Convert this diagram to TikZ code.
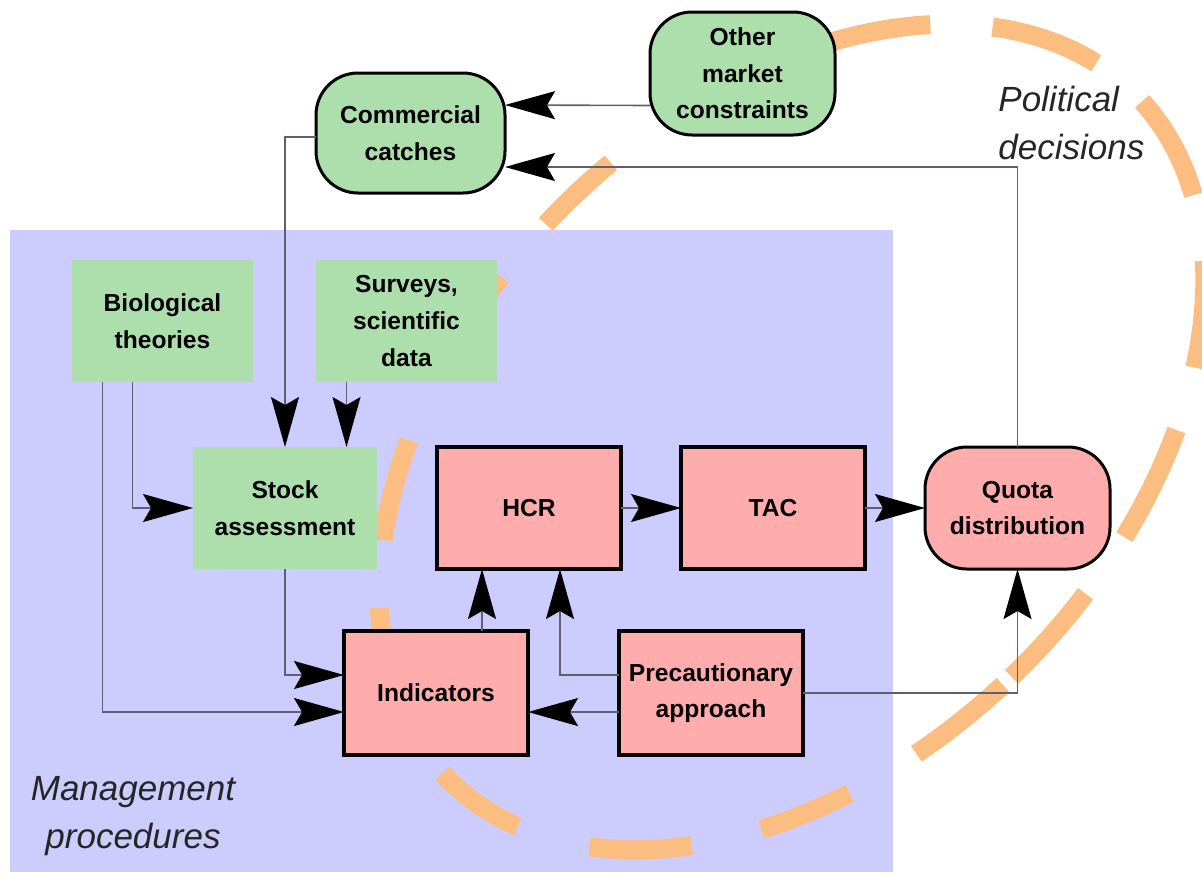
\documentclass[tikz,border=0pt]{standalone}
\usepackage{fontspec}
\setmainfont{Liberation Sans}
\usetikzlibrary{positioning, arrows.meta, calc}

\definecolor{mgmtblue}{RGB}{204,204,255}
\definecolor{boxgreen}{RGB}{172,223,172}
\definecolor{boxpink}{RGB}{255,172,172}
\definecolor{polorange}{RGB}{251,190,128}
\definecolor{wiregray}{RGB}{95,95,110}

\newcommand\diagfont{\fontsize{12.3}{18.3}\selectfont\bfseries}
\newcommand\areafont{\fontsize{17.5}{24}\selectfont\itshape}

\tikzset{
    gbox/.style={fill=boxgreen, minimum width=92pt, minimum height=61pt,
                 inner sep=0pt, outer sep=0pt, align=center, font=\diagfont},
    pbox/.style={gbox, fill=boxpink, draw=black, line width=1.8pt},
    grbox/.style={gbox, draw=black, line width=1.5pt, rounded corners=21pt},
    prbox/.style={pbox, line width=1.5pt, rounded corners=21pt},
    wire/.style={draw=wiregray, line width=0.8pt,
                 -{Stealth[length=25pt, width=14pt, inset=4pt, color=black]}},
    area/.style={inner sep=0pt, font=\areafont, text=black!85},
    polband/.style={polorange, line width=9.5pt}
}

\begin{document}
\begin{tikzpicture}[x=0.5pt, y=-0.5pt, node distance = 30pt]
        \useasboundingbox (0,0) rectangle (1202,874);
        % zones
        \fill[mgmtblue] (10,230) rectangle (893,872);
        \coordinate (cen) at (792,437);
        \foreach \a/\b in {8.7/27.1, 36.6/52, 60/72, 82.2/92.8, 101/114.4, 124.3/138.3,
                           148.3/166.8, 178.3/194.5, 206.8/222.1, 231.9/244.2, 253.7/266.9,
                           268.3/281.5, 289.8/304.8, 313.5/329.1, 339.7/358.2}
            \draw[polband, rotate around={45:(cen)}] ($(cen)+(\a:242.5pt and 162.5pt)$)
                arc[start angle=\a, end angle=\b, x radius=242.5pt, y radius=162.5pt];
        \node (mgmt) [area, anchor=north, align=center] at (133,776) {Management\\procedures};
        \node (pol) [area, anchor=north west, align=left] at (998,86) {Political\\decisions};

        % market side
        \node (other) [grbox, minimum width=92.5pt, minimum height=61.5pt] at (742.5,73.5) {Other\\market\\constraints};
        \node (catch) [grbox, minimum width=94.5pt, minimum height=60pt] at (410.5,133) {Commercial\\catches};

        % inputs
        \node (bio)  [gbox, minimum width=90.5pt] at (162.5,321) {Biological\\theories};
        \node (surv) [gbox, minimum width=90.5pt] at (406.5,321) {Surveys,\\scientific\\data};

        % main row
        \node (stock) [gbox] at (285,508) {Stock\\assessment};
        \node (hcr)   [pbox, right=of stock] {HCR};
        \node (tac)   [pbox, right=of hcr] {TAC};
        \node (quota) [prbox, minimum width=92.5pt, right=of tac] {Quota\\distribution};

        % bottom row
        \node (ind)  [pbox, minimum height=62pt] at (436,693) {Indicators};
        \node (prec) [pbox, minimum height=62pt] at (711,693) {Precautionary\\approach};

        % connectors
        \draw[wire] ([yshift=-16pt]other.west) -- ([yshift=14pt]catch.east);
        \draw[wire] (quota.north) |- ([yshift=-17pt]catch.east);
        \draw[wire] ([yshift=-2pt]catch.west) -| (stock.north);
        \draw[wire] ([xshift=-30pt]surv.south) -- ([xshift=-30pt]surv.south |- stock.north);
        \draw[wire] ([xshift=-15pt]bio.south) |- (stock.west);
        \draw[wire] ([xshift=-30pt]bio.south) |- ([yshift=-9.5pt]ind.west);
        \draw[wire] (stock.south) |- ([yshift=9pt]ind.west);
        \draw[wire] ([xshift=23pt]ind.north) -- ([xshift=23pt]ind.north |- hcr.south);
        \draw[wire] ([yshift=-9.5pt]prec.west) -- ([yshift=-9.5pt]ind.east);
        \draw[wire] ([yshift=9pt]prec.west) -| ([xshift=15.5pt]hcr.south);
        \draw[wire] (prec.east) -| (quota.south);
        \draw[wire] (hcr) -- (tac);
        \draw[wire] (tac) -- (quota);
        %
\end{tikzpicture}
\end{document}
